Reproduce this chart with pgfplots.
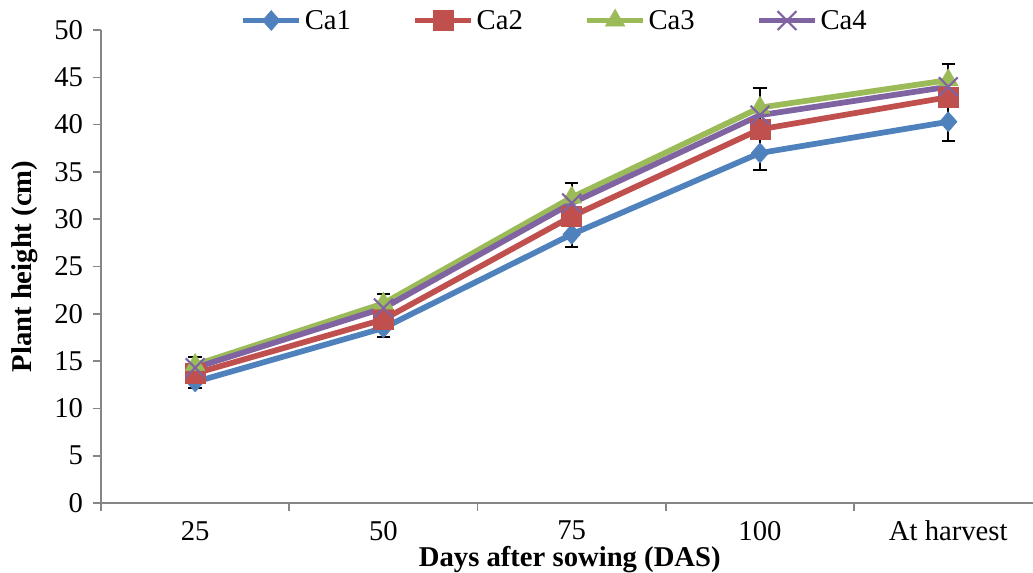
\documentclass[border=0pt]{standalone}
\usepackage{fontspec}
\setmainfont{Liberation Serif}
\usepackage{pgfplots}
\pgfplotsset{compat=1.18}

\definecolor{caA}{HTML}{4F81BD}
\definecolor{caB}{HTML}{C0504D}
\definecolor{caC}{HTML}{9BBB59}
\definecolor{caD}{HTML}{8064A2}
\definecolor{axgray}{RGB}{134,134,134}

\newcommand{\chartfont}{\fontsize{21.5}{24}\selectfont}

\begin{document}
\begin{tikzpicture}
    \begin{axis}[
        at={(0,0)}, anchor=south west,
        scale only axis,
        width=699pt, height=354.75pt,
        xmin=-0.5, xmax=4.45,
        ymin=0, ymax=50,
        axis lines=left,
        axis line style={-, draw=axgray, line width=1.2pt},
        xtick={0,1,2,3,4},
        xticklabels={25,50,75,100,At harvest},
        minor xtick={-0.5,0.5,1.5,2.5,3.5},
        ytick={0,5,...,50},
        tick align=outside,
        major tick length=6pt, minor tick length=6pt,
        tick style={draw=axgray, line width=1.2pt},
        major x tick style={draw=none},
        /pgf/number format/assume math mode=true,
        ticklabel style={font=\chartfont},
        xticklabel style={yshift=-4pt},
        yticklabel style={xshift=-4pt},
        xlabel={Days after sowing (DAS)},
        ylabel={Plant height (cm)},
        label style={font=\chartfont\bfseries},
        xlabel style={at={(axis description cs:0.503,-0.12)}, anchor=center},
        ylabel style={at={(axis description cs:-0.082,0.5)}, anchor=center},
        legend columns=4,
        legend style={draw=none, fill=none, at={(0.487,1.02)}, anchor=center,
            font=\chartfont,
            /tikz/every even column/.append style={column sep=44pt}},
        legend image code/.code={%
            \draw[mark repeat=2, mark phase=2, #1]
                plot coordinates {(0pt,0pt) (21pt,0pt) (42pt,0pt)};},
        every axis plot/.append style={line width=4.3pt},
        err/.style={error bars/.cd, y dir=both, y explicit,
            error bar style={black, line width=1.5pt, solid},
            error mark options={rotate=90, mark size=5pt, line width=1.5pt, black}},
    ]
    % Ca1
    \addplot[color=caA, mark=diamond*, mark size=7.5pt,
        mark options={solid, xscale=1.17, line width=0.4pt, fill=caA, draw=caA}, err]
        coordinates {
        (0,12.8) +- (0,0.6)
        (1,18.5) +- (0,1.0)
        (2,28.4) +- (0,1.3)
        (3,37.0) +- (0,1.8)
        (4,40.3) +- (0,2.0)
    };
    \addlegendentry{Ca1}
    % Ca2
    \addplot[color=caB, mark=square*, mark size=7.5pt,
        mark options={solid, line width=0.4pt, fill=caB, draw=caB}]
        coordinates {
        (0,13.7) (1,19.4) (2,30.3) (3,39.5) (4,42.9)
    };
    \addlegendentry{Ca2}
    % Ca3
    \addplot[color=caC, mark=triangle*, mark size=8.5pt,
        mark options={solid, line width=0.4pt, fill=caC, draw=caC}, err]
        coordinates {
        (0,14.6) +- (0,0.8)
        (1,21.1) +- (0,1.0)
        (2,32.3) +- (0,1.5)
        (3,41.8) +- (0,2.1)
        (4,44.7) +- (0,1.7)
    };
    \addlegendentry{Ca3}
    % Ca4
    \addplot[color=caD, mark=x, mark size=10pt,
        mark options={solid, line width=1.6pt, draw=caD}]
        coordinates {
        (0,14.3) (1,20.6) (2,31.7) (3,41.0) (4,44.0)
    };
    \addlegendentry{Ca4}
    \end{axis}
    \pgfresetboundingbox
    \useasboundingbox (-75.75pt,-51.75pt) rectangle (699pt,377.25pt);
\end{tikzpicture}
\end{document}
